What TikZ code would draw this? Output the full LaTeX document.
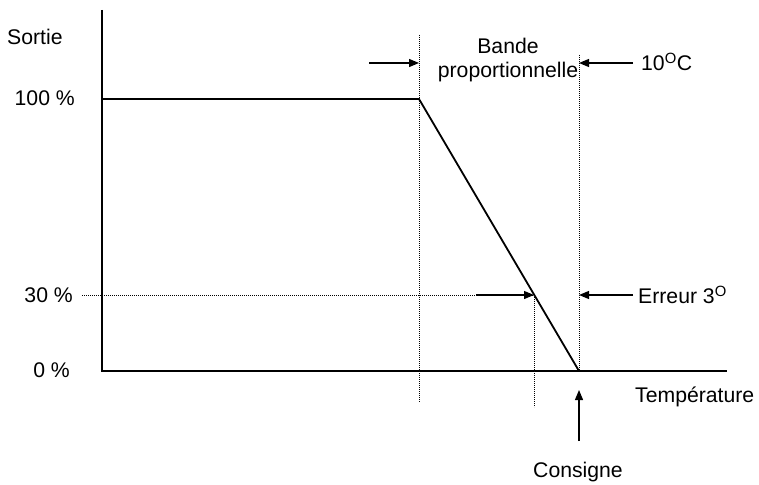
\documentclass[tikz,border=0pt]{standalone}
\usepackage{fontspec}
\setmainfont{Liberation Sans}
\usetikzlibrary{positioning, arrows.meta, calc}

\begin{document}
\begin{tikzpicture}[
    x=1pt, y=-1pt,
    axis line/.style={line width=1.8pt, draw=black},
    guide/.style={line width=0.9pt, dash pattern=on 0.9pt off 1.1pt, draw=black},
    pointer/.style={-{Triangle[length=10pt, width=8pt]}, line width=1.2pt, draw=black},
    lbl/.style={font=\fontsize{21.2}{24}\selectfont, inner sep=0pt, align=center, text=black}
]

\useasboundingbox (0,0) rectangle (759,484);

% ------------------------------------------------------------------------------
% 1. POINTS DE LA COURBE
% ------------------------------------------------------------------------------
\coordinate (origin) at (102,371);
\coordinate (ytop)   at (102,10);
\coordinate (xend)   at (727,371);
\coordinate (full)   at (102,99);
\coordinate (knee)   at (419,99);
\coordinate (zero)   at (579,371);
\coordinate (err)    at (534,295);

% ------------------------------------------------------------------------------
% 2. AXES ET COURBE
% ------------------------------------------------------------------------------
\draw[axis line] (ytop) -- (origin) -- (xend);
\draw[axis line] (full) -- (knee) -- (zero);

% ------------------------------------------------------------------------------
% 3. LIGNES DE REPERE (pointillés)
% ------------------------------------------------------------------------------
\draw[guide] (knee |- 0,35) -- (knee |- 0,402);
\draw[guide] (zero |- 0,55) -- (zero);
\draw[guide] (err) -- (err |- 0,407);
\draw[guide] (82,295) -- (err);

% ------------------------------------------------------------------------------
% 4. ETIQUETTES
% ------------------------------------------------------------------------------
\node[lbl, anchor=west] (sortie) at (7,37) {Sortie};
\node[lbl, anchor=east] (p100) at (75,98) {100 \%};
\node[lbl, anchor=east] (p30) at (73,295) {30 \%};
\node[lbl, anchor=east] (p0) at (70,370) {0 \%};
\node[lbl] (bande) at (508,60) {Bande\\proportionnelle};
\node[lbl, anchor=west] (dix) at (641,62) {10\textsuperscript{O}C};
\node[lbl, anchor=west] (erreur) at (638,295) {Erreur 3\textsuperscript{O}};
\node[lbl, anchor=west] (temp) at (635,397) {Température};
\node[lbl] (consigne) at (578,472) {Consigne};

% ------------------------------------------------------------------------------
% 5. FLECHES
% ------------------------------------------------------------------------------
\draw[pointer] (369,63) -- (knee |- 0,63);
\draw[pointer] (dix.west |- 0,63) ++(-8,0) -- (zero |- 0,63);
\draw[pointer] (476,295) -- (err);
\draw[pointer] (erreur.west |- 0,295) ++(-5,0) -- (zero |- 0,295);
\draw[pointer] (zero |- 0,441) -- (zero |- 0,390);

\end{tikzpicture}
\end{document}
